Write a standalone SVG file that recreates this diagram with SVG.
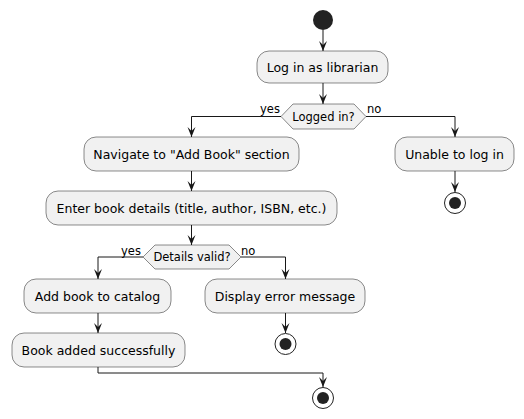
<svg xmlns="http://www.w3.org/2000/svg" width="524" height="419" viewBox="0 0 524 419">
<defs>
<style>
.box{fill:#F1F1F1;stroke:#181818;stroke-width:0.5}
.lbl{font-family:"DejaVu Sans",sans-serif;font-size:12.5px;fill:#000;text-anchor:middle}
.dl{font-family:"DejaVu Sans",sans-serif;font-size:11.5px;fill:#000;text-anchor:middle}
.bl{font-family:"DejaVu Sans",sans-serif;font-size:11.5px;fill:#000}
.edge{fill:none;stroke:#181818;stroke-width:1}
</style>
<marker id="ah" markerUnits="userSpaceOnUse" markerWidth="12" markerHeight="10" refX="10" refY="4" orient="auto">
<path d="M0,0 L10,4 L0,8 L4,4 Z" fill="#181818"/>
</marker>
</defs>
<rect width="524" height="419" fill="#FFFFFF"/>
<g id="start"><circle cx="323" cy="20" r="10" fill="#222222"/></g>
<g id="login"><rect class="box" x="257" y="51" width="131" height="32" rx="12"/><text class="lbl" x="322.5" y="71.5">Log in as librarian</text></g>
<g id="logged"><polygon class="box" points="281,116.5 293,104 354,104 366,116.5 354,129 293,129"/><text class="dl" x="323.5" y="120.5">Logged in?</text></g>
<g id="navigate"><rect class="box" x="84" y="137" width="215" height="34" rx="12"/><text class="lbl" x="191.5" y="158.5">Navigate to "Add Book" section</text></g>
<g id="unable"><rect class="box" x="395" y="137" width="119" height="34" rx="12"/><text class="lbl" x="454.5" y="158.5">Unable to log in</text></g>
<g id="end1"><circle cx="455" cy="203" r="10.5" fill="none" stroke="#222222" stroke-width="1"/><circle cx="455" cy="203" r="6" fill="#222222"/></g>
<g id="enter"><rect class="box" x="46" y="191" width="291" height="34" rx="12"/><text class="lbl" x="191.5" y="212.5">Enter book details (title, author, ISBN, etc.)</text></g>
<g id="valid"><polygon class="box" points="143,257 155,245 229,245 241,257 229,269 155,269"/><text class="dl" x="192" y="261">Details valid?</text></g>
<g id="addbook"><rect class="box" x="24" y="279" width="147" height="34" rx="12"/><text class="lbl" x="97.5" y="300.5">Add book to catalog</text></g>
<g id="error"><rect class="box" x="205" y="279" width="160" height="34" rx="12"/><text class="lbl" x="285" y="300.5">Display error message</text></g>
<g id="end2"><circle cx="285.5" cy="344" r="10.5" fill="none" stroke="#222222" stroke-width="1"/><circle cx="285.5" cy="344" r="6" fill="#222222"/></g>
<g id="added"><rect class="box" x="12" y="333" width="173" height="34" rx="12"/><text class="lbl" x="98.5" y="354.5">Book added successfully</text></g>
<g id="end3"><circle cx="323" cy="398" r="10.5" fill="none" stroke="#222222" stroke-width="1"/><circle cx="323" cy="398" r="6" fill="#222222"/></g>
<g id="edges">
<path class="edge" marker-end="url(#ah)" d="M323,30 L323,51"/>
<path class="edge" marker-end="url(#ah)" d="M323,83 L323,104"/>
<path class="edge" marker-end="url(#ah)" d="M281,116.5 L191.5,116.5 L191.5,137"/>
<path class="edge" marker-end="url(#ah)" d="M366,116.5 L455,116.5 L455,137"/>
<path class="edge" marker-end="url(#ah)" d="M455,171 L455,192"/>
<path class="edge" marker-end="url(#ah)" d="M191.5,171 L191.5,191"/>
<path class="edge" marker-end="url(#ah)" d="M191.5,225 L191.5,245"/>
<path class="edge" marker-end="url(#ah)" d="M143,257 L98,257 L98,279"/>
<path class="edge" marker-end="url(#ah)" d="M241,257 L285.5,257 L285.5,279"/>
<path class="edge" marker-end="url(#ah)" d="M98,313 L98,333"/>
<path class="edge" marker-end="url(#ah)" d="M285.5,313 L285.5,333"/>
<path class="edge" marker-end="url(#ah)" d="M98,367 L98,373 L323,373 L323,387"/>
<text class="bl" x="260" y="113">yes</text>
<text class="bl" x="367" y="113">no</text>
<text class="bl" x="121" y="255">yes</text>
<text class="bl" x="241" y="255">no</text>
</g>
</svg>
